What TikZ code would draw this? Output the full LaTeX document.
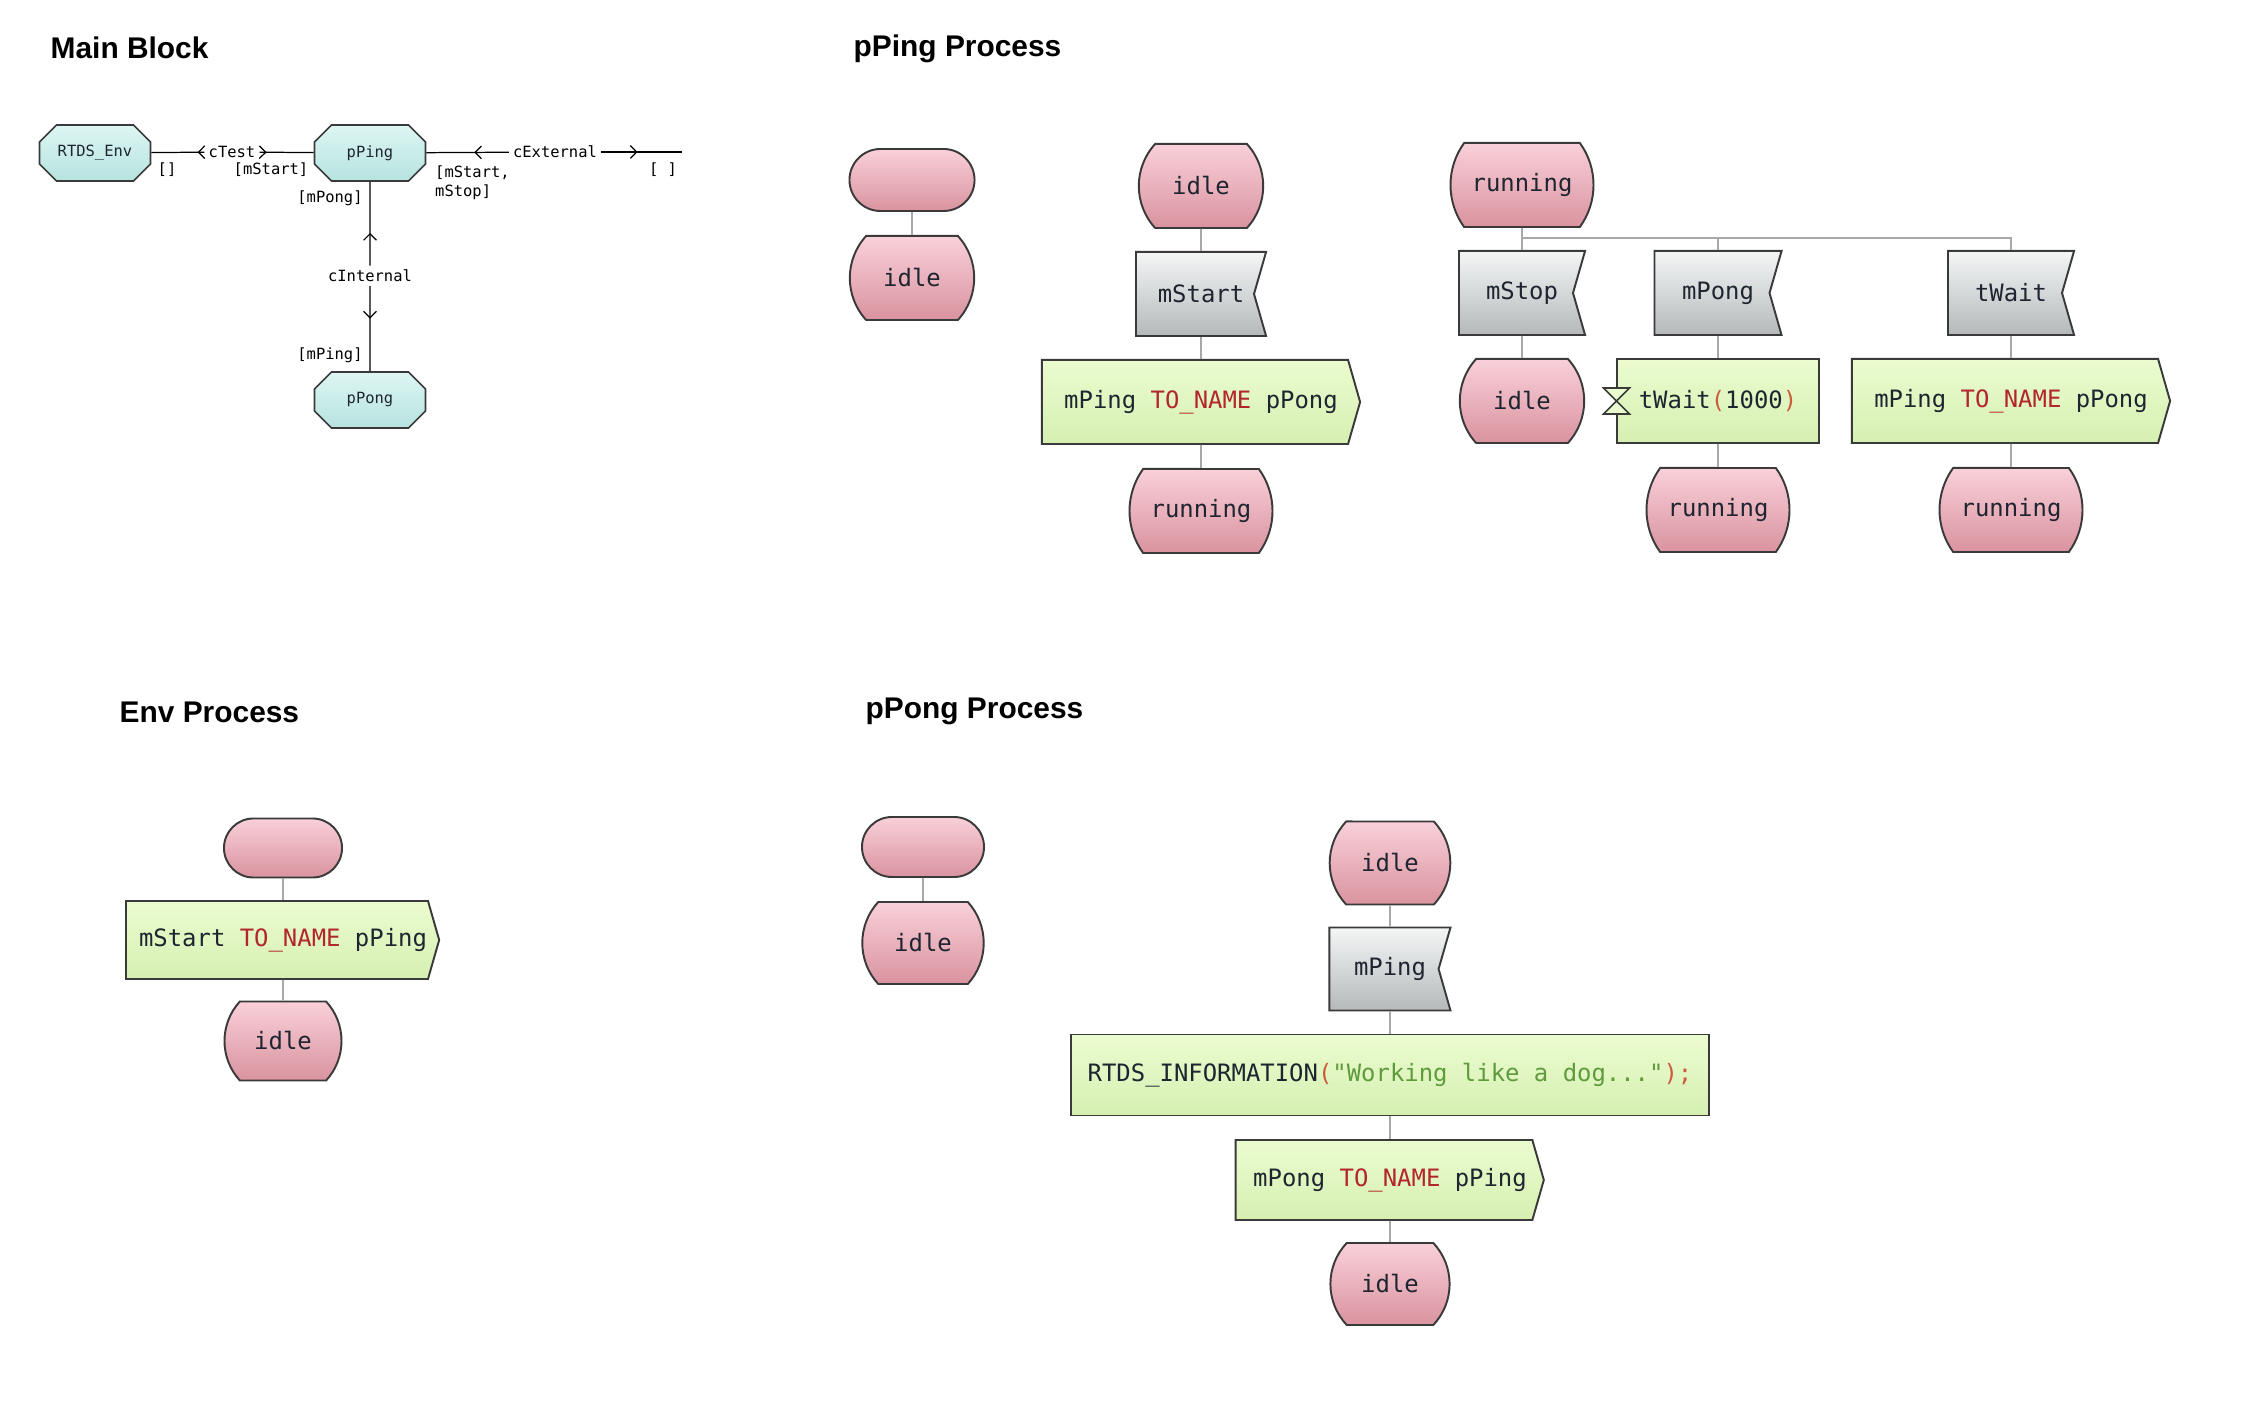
\documentclass[tikz,border=0pt]{standalone}
\usepackage{fontspec}
\usetikzlibrary{shapes.misc,shapes.symbols,decorations.markings,arrows.meta}
\newfontfamily\sdlfont{DejaVu Sans Mono}
\newfontfamily\headfont{Liberation Sans}
\definecolor{PinkLight}{HTML}{F9D0D9}
\definecolor{PinkDark}{HTML}{D9939F}
\definecolor{GreenLight}{HTML}{EBFCCF}
\definecolor{GreenDark}{HTML}{D6EFB2}
\definecolor{GrayLight}{HTML}{F4F6F6}
\definecolor{GrayDark}{HTML}{B5B9BA}
\definecolor{CyanLight}{HTML}{DDF6F4}
\definecolor{CyanDark}{HTML}{B6E3DF}
\definecolor{Edge}{HTML}{3A3A3A}
\definecolor{LinkGray}{HTML}{A8A8A8}
\definecolor{Ink}{HTML}{1E2530}
\definecolor{KeyRed}{HTML}{B3262C}
\definecolor{ParenRed}{HTML}{CC5A3C}
\definecolor{StrGreen}{HTML}{5F9A3C}
\newcommand{\kwtxt}[1]{\textcolor{KeyRed}{#1}}
\newcommand{\partxt}[1]{\textcolor{ParenRed}{#1}}
\newcommand{\strtxt}[1]{\textcolor{StrGreen}{#1}}

\begin{document}
\begin{tikzpicture}[
  x=0.01cm, y=-0.01cm,
  sdl/.style={draw=Edge, line width=0.55pt, text=Ink, inner sep=0pt, font=\fontsize{6.8}{8}\sdlfont},
  sdlstart/.style={sdl, rounded rectangle, top color=PinkLight, bottom color=PinkDark, minimum width=1.25cm, minimum height=0.62cm},
  sdlstate/.style={sdl, rounded rectangle, rounded rectangle arc length=85, top color=PinkLight, bottom color=PinkDark, minimum height=0.84cm},
  sdlin/.style={sdl, signal, signal to=nowhere, signal from=east, signal pointer angle=148, top color=GrayLight, bottom color=GrayDark, minimum width=1.28cm, minimum height=0.84cm, execute at begin node={\hspace*{0.12cm}}},
  sdlout/.style={sdl, signal, signal to=east, signal pointer angle=148, top color=GreenLight, bottom color=GreenDark, minimum width=3.18cm, minimum height=0.84cm, execute at begin node={\hspace*{0.12cm}}},
  sdltask/.style={sdl, rectangle, top color=GreenLight, bottom color=GreenDark, minimum height=0.84cm},
  link/.style={draw=LinkGray, line width=0.45pt},
  blk/.style={chamfered rectangle, chamfered rectangle xsep=0.07cm, draw=Edge, line width=0.45pt, top color=CyanLight, bottom color=CyanDark, text=Ink, minimum width=1.11cm, minimum height=0.56cm, inner sep=0pt, font=\fontsize{4.4}{5}\sdlfont},
  lbl/.style={font=\fontsize{4.4}{5.4}\sdlfont, inner sep=1pt},
  chan/.style={draw=black, line width=0.35pt, postaction={decorate}, decoration={markings, mark=at position #1 with {\arrow{Straight Barb[length=1.8pt,width=3.6pt]}}}},
  ttl/.style={font=\fontsize{8.5}{10}\headfont\bfseries, anchor=base west, inner sep=0pt}
]
\useasboundingbox (0,0) rectangle (2248,1404);

% Main Block
\node[ttl] (tMain) at (50,59) {Main Block};
\node[blk] (env) at (95,153) {RTDS\_Env};
\node[blk] (ping) at (370,153) {pPing};
\node[blk] (pong) at (370,400) {pPong};
\node[lbl, fill=white] (cTest) at (232,152) {cTest};
\node[lbl, fill=white] (cExt) at (555,152) {cExternal};
\node[lbl, fill=white] (cInt) at (370,276) {cInternal};
\coordinate (ext) at (682,152);
\draw[chan=0.13] (cTest) -- (env);
\draw[chan=0.13] (cTest) -- (ping);
\draw[chan=0.42] (cExt) -- (ping);
\draw[chan=0.45] (cExt) -- (ext);
\draw[chan=0.39] (cInt) -- (ping);
\draw[chan=0.38] (cInt) -- (pong);
% signal lists
\node[lbl] (sEnv) at (167,170) {[]};
\node[lbl] (sTest) at (271,170) {[mStart]};
\node[lbl] (sUp) at (330,198) {[mPong]};
\node[lbl, anchor=north west, align=left] (sExtIn) at (431,162) {[mStart,\\ mStop]};
\node[lbl] (sExtOut) at (663,170) {[ ]};
\node[lbl] (sDown) at (330,355) {[mPing]};

% pPing Process
\node[ttl] (tPing) at (853,57) {pPing Process};
\node[sdlstart] (ping0) at (912,180) {};
\node[sdlstate] (ping1) at (912,278) {idle};
\draw[link] (ping0) -- (ping1);

\node[sdlstate] (idleA) at (1201,186) {idle};
\node[sdlin, minimum width=1.30cm] (startIn) at (1195,294) {mStart};
\node[sdlout] (pingOutA) at (1195,402) {mPing \kwtxt{TO\_NAME} pPong};
\node[sdlstate, rounded rectangle arc length=72] (runA) at (1201,511) {running};
\draw[link] (idleA) -- (idleA |- startIn.north);
\draw[link] (startIn.south -| idleA) -- (idleA |- pingOutA.north);
\draw[link] (pingOutA.south -| idleA) -- (runA);

\node[sdlstate, rounded rectangle arc length=72] (runB) at (1522,185) {running};
\node[sdlin, minimum width=1.26cm] (stopIn) at (1516,293) {mStop};
\node[sdlin, minimum width=1.27cm] (pongIn) at (1712,293) {mPong};
\node[sdlin, minimum width=1.26cm] (waitIn) at (2005,293) {tWait};
\node[sdlstate] (idleB) at (1522,401) {idle};
\node[sdltask, minimum width=2.01cm] (waitTask) at (1718,401) {tWait\partxt{(}1000\partxt{)}};
\draw[draw=Edge, line width=0.45pt, fill=GreenLight] (waitTask.west) ++(-13,-13) -- ++(26,0) -- ++(-26,26) -- ++(26,0) -- cycle;
\node[sdlout] (pingOutB) at (2005,401) {mPing \kwtxt{TO\_NAME} pPong};
\node[sdlstate, rounded rectangle arc length=72] (runC) at (1718,510) {running};
\node[sdlstate, rounded rectangle arc length=72] (runD) at (2011,510) {running};
\coordinate (fork) at (1522,238);
\draw[link] (runB) -- (runB |- stopIn.north);
\draw[link] (stopIn.south -| runB) -- (idleB);
\draw[link] (fork) -| (runC |- pongIn.north);
\draw[link] (fork) -| (runD |- waitIn.north);
\draw[link] (pongIn.south -| runC) -- (waitTask);
\draw[link] (waitTask) -- (runC);
\draw[link] (waitIn.south -| runD) -- (runD |- pingOutB.north);
\draw[link] (pingOutB.south -| runD) -- (runD);

% Env Process
\node[ttl] (tEnv) at (119,723) {Env Process};
\node[sdlstart, minimum width=1.18cm, minimum height=0.59cm] (env0) at (283,848) {};
\node[sdlout, minimum width=3.13cm, minimum height=0.78cm] (startOut) at (277,940) {mStart \kwtxt{TO\_NAME} pPing};
\node[sdlstate, minimum height=0.79cm] (idleE) at (283,1041) {idle};
\draw[link] (env0) -- (env0 |- startOut.north);
\draw[link] (startOut.south -| env0) -- (idleE);

% pPong Process
\node[ttl] (tPong) at (865,719) {pPong Process};
\node[sdlstart, minimum width=1.22cm, minimum height=0.60cm] (pong0) at (923,847) {};
\node[sdlstate, minimum height=0.82cm] (pong1) at (923,943) {idle};
\draw[link] (pong0) -- (pong1);

\node[sdlstate, rounded rectangle arc length=87, minimum height=0.83cm] (idleP) at (1390,863) {idle};
\node[sdlin, minimum width=1.21cm, minimum height=0.83cm] (pingIn) at (1384,969) {mPing};
\node[sdltask, minimum width=6.38cm, minimum height=0.81cm] (infoTask) at (1390,1075) {RTDS\_INFORMATION\partxt{(}\strtxt{"Working like a dog..."}\partxt{);}};
\node[sdlout, minimum width=3.08cm, minimum height=0.80cm] (pongOut) at (1384,1180) {mPong \kwtxt{TO\_NAME} pPing};
\node[sdlstate, rounded rectangle arc length=87, minimum height=0.82cm] (idleQ) at (1390,1284) {idle};
\draw[link] (idleP) -- (idleP |- pingIn.north);
\draw[link] (pingIn.south -| idleP) -- (infoTask);
\draw[link] (infoTask) -- (idleP |- pongOut.north);
\draw[link] (pongOut.south -| idleP) -- (idleQ);

\end{tikzpicture}
\end{document}
